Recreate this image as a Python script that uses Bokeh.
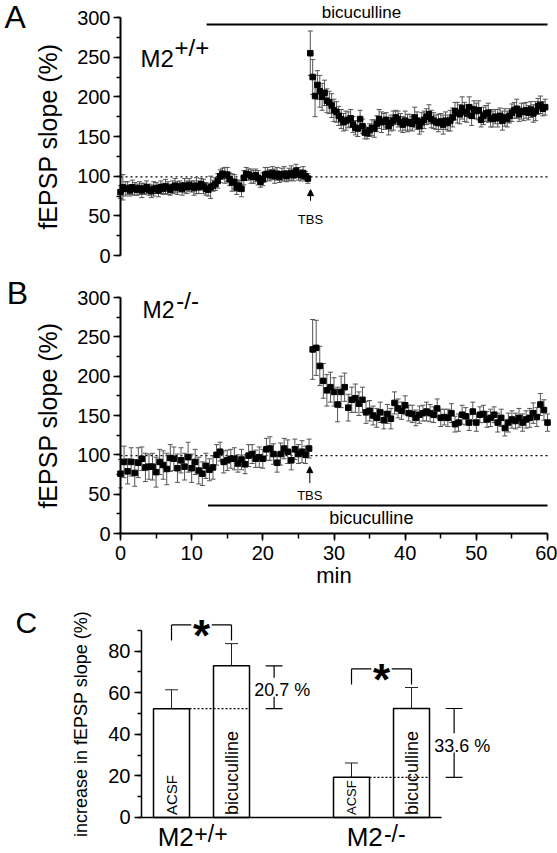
import numpy as np
from bokeh.plotting import figure
from bokeh.layouts import column
from bokeh.models import (ColumnDataSource, Whisker, TeeHead, Arrow, NormalHead,
                          SingleIntervalTicker, FixedTicker, Range1d, LinearAxis)
from bokeh.core.properties import value
from bokeh.embed import file_html
from bokeh.resources import INLINE

FONT = "Liberation Sans"

# ---------------- data: panel A (M2+/+) ----------------
a_pre_start, a_pre_step = 0.0, 1 / 3
a_pre = [80, 86, 84, 85, 82, 86, 84, 83, 85, 82,
         84, 86, 83, 81, 84, 85, 82, 86, 84, 87,
         85, 83, 86, 88, 85, 87, 84, 88, 86, 89,
         87, 85, 88, 86, 90, 87, 84, 83, 86, 88,
         90, 94, 100, 103, 101, 102, 96, 92, 93, 85,
         88, 84, 98, 103, 102, 100, 99, 101, 98, 93,
         96, 102, 103, 101, 104, 100, 103, 99, 102, 103,
         100, 102, 104, 101, 107, 103, 101, 104, 100, 97]
a_pre_err = [8, 16, 9, 8, 7, 9, 8, 7, 8, 9,
             7, 8, 7, 8, 9, 7, 8, 8, 7, 9,
             8, 7, 8, 9, 8, 7, 8, 9, 8, 8,
             7, 9, 10, 8, 7, 9, 8, 8, 14, 7,
             8, 9, 8, 7, 10, 9, 8, 11, 9, 8,
             7, 10, 9, 8, 7, 9, 8, 8, 9, 7,
             8, 9, 8, 7, 8, 9, 8, 7, 8, 9,
             7, 8, 9, 7, 8, 8, 7, 8, 6, 6]
a_post_start, a_post_step = 26.67, 1 / 3
a_post = [255, 225, 201, 215, 207, 200, 205, 195, 193, 189,
          183, 181, 176, 172, 168, 170, 171, 173, 165, 161,
          160, 172, 163, 155, 154, 158, 161, 160, 166, 172,
          168, 169, 171, 163, 167, 170, 174, 172, 168, 165,
          170, 167, 168, 166, 174, 170, 163, 168, 171, 175,
          178, 172, 170, 168, 167, 169, 165, 170, 167, 170,
          174, 182, 180, 178, 186, 181, 179, 187, 176, 184,
          182, 183, 171, 176, 179, 180, 173, 172, 175, 173,
          176, 170, 174, 172, 176, 180, 183, 185, 178, 182,
          181, 183, 180, 184, 179, 182, 188, 190, 185, 187]
a_post_err = [28, 22, 26, 18, 20, 17, 16, 15, 14, 15,
              14, 13, 12, 12, 11, 12, 10, 11, 10, 9,
              10, 11, 9, 8, 7, 8, 10, 11, 10, 12,
              13, 10, 9, 11, 10, 12, 9, 10, 11, 10,
              12, 11, 10, 9, 13, 11, 10, 12, 11, 10,
              12, 11, 10, 9, 11, 10, 12, 11, 10, 13,
              12, 11, 13, 12, 14, 12, 11, 13, 12, 11,
              10, 12, 9, 11, 10, 12, 11, 10, 9, 11,
              10, 12, 11, 10, 9, 11, 10, 12, 9, 10,
              11, 10, 9, 10, 11, 12, 10, 11, 9, 10]

# ---------------- data: panel B (M2-/-) ----------------
b_pre_start, b_pre_step = 0.0, 0.5
b_pre = [76, 91, 79, 91, 77, 90, 95, 84, 85, 85,
         78, 91, 87, 82, 96, 95, 83, 93, 85, 97,
         83, 91, 80, 76, 86, 81, 84, 100, 104, 91,
         93, 95, 95, 89, 94, 88, 99, 101, 95, 97,
         95, 107, 108, 101, 90, 101, 108, 104, 93, 107,
         101, 104, 100, 108]
b_pre_err = [18, 20, 16, 18, 17, 19, 15, 18, 16, 17,
             19, 16, 18, 20, 17, 15, 18, 16, 17, 19,
             18, 16, 17, 15, 16, 14, 15, 13, 12, 14,
             13, 12, 14, 11, 13, 12, 14, 12, 11, 13,
             12, 14, 15, 13, 12, 14, 13, 15, 12, 13,
             12, 14, 11, 12]
b_post_start, b_post_step = 27.0, 0.5
b_post = [234, 236, 213, 194, 182, 186, 180, 164, 180, 186,
          160, 170, 172, 165, 170, 154, 156, 150, 147, 154,
          144, 152, 146, 166, 159, 156, 163, 153, 152, 147,
          151, 153, 155, 153, 151, 159, 147, 148, 147, 153,
          139, 141, 151, 149, 141, 155, 141, 151, 152, 145,
          147, 151, 141, 147, 134, 141, 145, 143, 147, 141,
          145, 147, 153, 148, 164, 157, 141]
b_post_err = [38, 35, 25, 22, 20, 19, 18, 22, 20, 18,
              17, 16, 18, 15, 16, 14, 13, 12, 12, 13,
              11, 12, 13, 14, 12, 11, 12, 10, 11, 10,
              11, 10, 12, 11, 10, 12, 11, 10, 11, 12,
              10, 11, 12, 11, 10, 12, 11, 10, 11, 10,
              11, 10, 12, 11, 10, 12, 11, 10, 12, 11,
              11, 12, 13, 12, 14, 13, 11]

baseline = 99
t_end = 60
tbs_a, tbs_b = 26.7, 26.6
bic_start_a, bic_start_b = 12.1, 12.3

# ---------------- data: panel C ----------------
c_groups = ["+/+", "-/-"]
c_conditions = ["ACSF", "bicuculline"]
c_wt = [52.3, 72.9]
c_wt_err = [9.1, 10.7]
c_ko = [19.3, 52.4]
c_ko_err = [6.9, 10.1]
c_diff_labels = ["20.7 %", "33.6 %"]
c_bar_x = [0.5, 1.5, 3.5, 4.5]

W = 557
# time panels: x range so that 0 min sits 120 px from the left edge, 60 min at 547 px
T_RANGE = (-16.862, 61.405)


def series_source(start, step, vals, errs):
    v = np.array(vals, dtype=float)
    e = np.array(errs, dtype=float)
    t = start + step * np.arange(len(v))
    return ColumnDataSource(dict(t=t, v=v, lo=v - e, hi=v + e))


def make_axis(side, p, bounds, ticker, label, label_size, tick_size, lw=2):
    ax = LinearAxis(fixed_location=0, bounds=bounds, ticker=ticker)
    ax.axis_line_width = lw
    ax.axis_line_color = "black"
    ax.major_tick_line_width = 1.5
    ax.minor_tick_line_width = 1.5
    ax.major_tick_out = 7
    ax.major_tick_in = 0
    ax.minor_tick_out = 4
    ax.minor_tick_in = 0
    ax.major_label_text_font = FONT
    ax.major_label_text_font_size = tick_size
    ax.major_label_text_color = "black"
    if label:
        ax.axis_label = label
    ax.axis_label_text_font = FONT
    ax.axis_label_text_font_size = label_size
    ax.axis_label_text_font_style = "normal"
    ax.axis_label_text_color = "black"
    p.add_layout(ax, side)
    return ax


def new_fig(height, xr, yr):
    p = figure(width=W, height=height, x_range=Range1d(*xr), y_range=Range1d(*yr),
               output_backend="svg", toolbar_location=None,
               x_axis_location=None, y_axis_location=None,
               min_border_left=0, min_border_right=0, min_border_top=0, min_border_bottom=0,
               title=None)
    p.grid.visible = False
    p.outline_line_color = None
    return p


def add_series(p, src):
    w = Whisker(source=src, base="t", upper="hi", lower="lo", line_color="#555555",
                line_width=1, level="underlay",
                upper_head=TeeHead(size=5, line_color="#555555", line_width=1),
                lower_head=TeeHead(size=5, line_color="#555555", line_width=1))
    p.add_layout(w)
    p.scatter("t", "v", source=src, marker="square", size=5.5, color="black")


def txt(p, x, y, s, size, align="left", style="normal", angle=0):
    # y is the vertical centre of the text
    p.text(x=[x], y=[y], text=[s], text_font=value(FONT), text_font_size=size,
           text_align=align, text_baseline="middle", text_font_style=style,
           text_color="black", angle=angle)


# ================= Panel A =================
pA = new_fig(275, T_RANGE, (-25.21, 321.43))
ya = make_axis("left", pA, (0, 300), SingleIntervalTicker(interval=50, num_minor_ticks=2),
               "fEPSP slope (%)", "25px", "20px")
ya.major_label_standoff = 3
ya.axis_label_standoff = 12

pA.segment(x0=[0], x1=[t_end], y0=[baseline], y1=[baseline], line_dash="2 3",
           line_color="black", line_width=1.3, level="underlay")
add_series(pA, series_source(a_pre_start, a_pre_step, a_pre, a_pre_err))
add_series(pA, series_source(a_post_start, a_post_step, a_post, a_post_err))
pA.segment(x0=[bic_start_a], x1=[t_end], y0=[291.2], y1=[291.2], line_color="black", line_width=2)
txt(pA, (bic_start_a + t_end) / 2 - 2.2, 306.3, "bicuculline", "17px", align="center")
pA.add_layout(Arrow(end=NormalHead(size=6, fill_color="black", line_color="black"),
                    x_start=tbs_a, y_start=69, x_end=tbs_a, y_end=83,
                    line_color="black", line_width=1))
txt(pA, tbs_a, 46, "TBS", "13px", align="center")
txt(pA, 2.8, 248.4, "M2", "24px")
txt(pA, 7.6, 261.6, c_groups[0], "24px")
txt(pA, -16.3, 300.6, "A", "32px")

# ================= Panel B =================
pB = new_fig(320, T_RANGE, (-78.81, 327.97))
yb = make_axis("left", pB, (0, 300), SingleIntervalTicker(interval=50, num_minor_ticks=2),
               "fEPSP slope (%)", "25px", "20px")
yb.major_label_standoff = 3
yb.axis_label_standoff = 12
xb = make_axis("below", pB, (0, 60), SingleIntervalTicker(interval=10, num_minor_ticks=2),
               "min", "22px", "20px")
xb.minor_tick_out = 5
xb.major_label_standoff = 5
xb.axis_label_standoff = 0

pB.segment(x0=[0], x1=[t_end], y0=[baseline], y1=[baseline], line_dash="2 3",
           line_color="black", line_width=1.3, level="underlay")
add_series(pB, series_source(b_pre_start, b_pre_step, b_pre, b_pre_err))
add_series(pB, series_source(b_post_start, b_post_step, b_post, b_post_err))
pB.segment(x0=[bic_start_b], x1=[t_end], y0=[35.6], y1=[35.6], line_color="black", line_width=2)
txt(pB, (bic_start_b + t_end) / 2 - 0.9, 20, "bicuculline", "18px", align="center")
pB.add_layout(Arrow(end=NormalHead(size=6, fill_color="black", line_color="black"),
                    x_start=tbs_b, y_start=64, x_end=tbs_b, y_end=85,
                    line_color="black", line_width=1))
txt(pB, tbs_b, 48, "TBS", "13px", align="center")
txt(pB, 3.1, 283.5, "M2", "23px")
txt(pB, 7.85, 296.5, c_groups[1], "24px")
txt(pB, -16.0, 305.5, "B", "32px")

# ================= Panel C =================
pC = new_fig(258, (-2.35, 6.933), (-17.31, 106.73))
yc = make_axis("left", pC, (0, 90), SingleIntervalTicker(interval=20, num_minor_ticks=2),
               "increase in fEPSP slope (%)", "18px", "20px", lw=1.5)
yc.major_label_standoff = 4
yc.axis_label_standoff = 14
xc = make_axis("below", pC, (0, 5), FixedTicker(ticks=[]), None, "10px", "10px", lw=1.5)

vals = c_wt + c_ko
errs = c_wt_err + c_ko_err
bar_src = ColumnDataSource(dict(x=c_bar_x, top=vals, hi=[v + e for v, e in zip(vals, errs)]))
pC.add_layout(Whisker(source=bar_src, base="x", lower="top", upper="hi", line_color="#222222",
                      line_width=1, lower_head=None,
                      upper_head=TeeHead(size=13, line_color="#222222", line_width=1)))
pC.vbar(x="x", top="top", width=0.6, source=bar_src, fill_color="white",
        line_color="black", line_width=1.5)

bar_font = ["15px", "18px", "13px", "18px"]
for i in range(4):
    txt(pC, c_bar_x[i], 1.2, c_conditions[i % 2], bar_font[i], angle=np.pi / 2)

for g, (grp_vals, grp_errs) in enumerate([(c_wt, c_wt_err), (c_ko, c_ko_err)]):
    xa, xbic = c_bar_x[2 * g], c_bar_x[2 * g + 1]
    va, vb = grp_vals
    pC.segment(x0=[xa + 0.3], x1=[xbic + 0.3], y0=[va], y1=[va], line_color="black",
               line_width=1.2, line_dash="2 2")
    bx = xbic + 0.71
    mid = (va + vb) / 2
    gap = 4.6
    pC.segment(x0=[bx, bx, bx - 0.14, bx - 0.14], x1=[bx, bx, bx + 0.14, bx + 0.14],
               y0=[vb, mid - gap, vb, va], y1=[mid + gap, va, vb, va],
               line_color="black", line_width=1.2)
    txt(pC, bx - 0.33, mid - 1.5, c_diff_labels[g], "18px")
    etop = max(v + e for v, e in zip(grp_vals, grp_errs))
    top = etop + 9
    leg = etop + 1.5
    cx = (xa + xbic) / 2
    pC.segment(x0=[xa, xa, cx + 0.17, xbic], x1=[xa, cx - 0.17, xbic, xbic],
               y0=[leg, top, top, top], y1=[top, top, top, leg],
               line_color="black", line_width=1.2)
    txt(pC, cx, top - 5, "*", "44px", align="center", style="bold")

txt(pC, -2.1, 93.75, "C", "30px")
txt(pC, 0.27, -9.6, "M2", "26px")
txt(pC, 0.88, -7.7, c_groups[0], "23px")
txt(pC, 3.42, -9.6, "M2", "26px")
txt(pC, 4.04, -7.7, c_groups[1], "23px")

layout = column(pA, pB, pC)
open("out.html", "w").write(file_html(layout, INLINE))
